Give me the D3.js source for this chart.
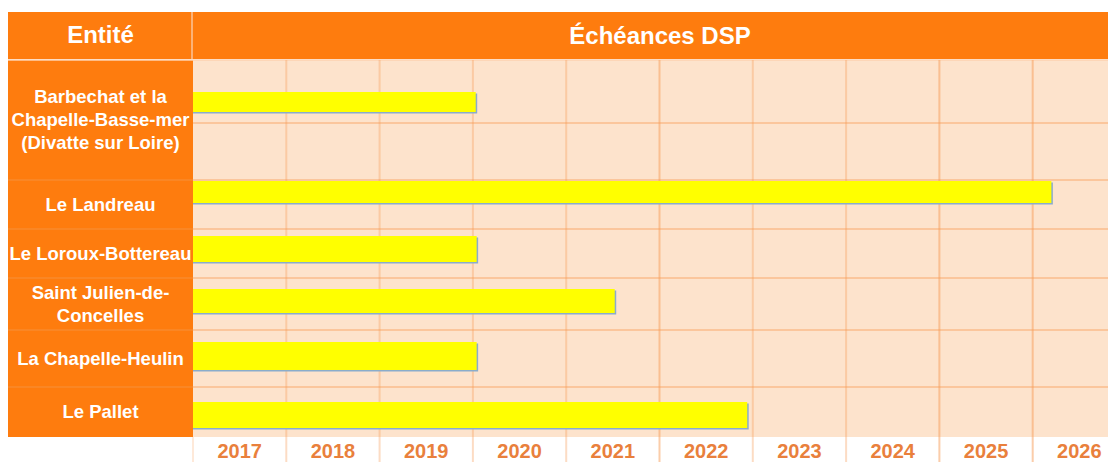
<!DOCTYPE html>
<html>
<head>
<meta charset="utf-8">
<script src="https://cdn.jsdelivr.net/npm/d3@7"></script>
<style>
  body { margin: 0; background: #fff; }
  text { font-family: "Liberation Sans", Arial, sans-serif; font-weight: bold; }
</style>
</head>
<body>
<div id="chart"></div>
<script>
// data
const entities = [
  "Barbechat et la\nChapelle-Basse-mer\n(Divatte sur Loire)",
  "Le Landreau",
  "Le Loroux-Bottereau",
  "Saint Julien-de-\nConcelles",
  "La Chapelle-Heulin",
  "Le Pallet"
];
// end of each DSP contract (year, decimal)
const echeances = [2020.03, 2026.2, 2020.04, 2021.52, 2020.04, 2022.94];
const years = [2017, 2018, 2019, 2020, 2021, 2022, 2023, 2024, 2025, 2026];
const headers = ["Entité", "Échéances DSP"];

const width = 1108, height = 462;
const orange = "#fe7c0e", peach = "#fde3cc", gridCol = "#f79c55";

const svg = d3.select("#chart").append("svg")
    .attr("width", width)
    .attr("height", height);

// table layout (row edges of the left column)
const plotTop = 60, plotBottom = 437, colLeft = 8, colRight = 193;
const rowY = d3.scaleLinear()
    .domain(d3.range(entities.length + 1))
    .range([plotTop, 180, 229, 278, 330, 387, plotBottom]);
// bars were placed by hand over the table, so they sit a bit above the row centres
const barY = d3.scaleOrdinal().domain(entities).range([102, 192, 249, 301, 356, 415]);
const barH = d3.scaleOrdinal().domain(entities).range([20, 22, 26, 24, 28, 26]);

const x = d3.scaleLinear()
    .domain([years[0], years[years.length - 1] + 1])
    .range([colRight, colRight + 93.3 * years.length]);

// header
svg.append("rect").attr("x", colLeft).attr("y", 12)
    .attr("width", width - colLeft).attr("height", 47).attr("fill", orange);
svg.append("line").attr("x1", colRight - 1).attr("x2", colRight - 1)
    .attr("y1", 12).attr("y2", 59).attr("stroke", "#fbc59b").attr("stroke-width", 1.5);
svg.append("text").attr("x", (colLeft + colRight) / 2).attr("y", 43)
    .attr("text-anchor", "middle").attr("fill", "#fff").attr("font-size", 24).text(headers[0]);
svg.append("text").attr("x", 660).attr("y", 44)
    .attr("text-anchor", "middle").attr("fill", "#fff").attr("font-size", 24).text(headers[1]);

// left column + plot background
svg.append("rect").attr("x", colLeft).attr("y", plotTop)
    .attr("width", colRight - colLeft).attr("height", plotBottom - plotTop).attr("fill", orange);
svg.append("rect").attr("x", colRight).attr("y", plotTop)
    .attr("width", width - colRight).attr("height", plotBottom - plotTop).attr("fill", peach);
svg.append("line").attr("x1", colLeft).attr("x2", width)
    .attr("y1", plotTop).attr("y2", plotTop).attr("stroke", "#fcd2b0").attr("stroke-width", 1.5);

// faint row separators in the orange column
svg.selectAll(".rowsep")
  .data(d3.range(1, entities.length))
  .join("line")
    .attr("class", "rowsep")
    .attr("x1", colLeft).attr("x2", colRight)
    .attr("y1", d => rowY(d)).attr("y2", d => rowY(d))
    .attr("stroke", "#f98a2c").attr("stroke-width", 1.5);

// horizontal grid in the plot area
const hLines = d3.range(1, entities.length).map(d => rowY(d)).concat([123]);
svg.selectAll(".hgrid")
  .data(hLines)
  .join("line")
    .attr("class", "hgrid")
    .attr("x1", colRight).attr("x2", width)
    .attr("y1", d => d).attr("y2", d => d)
    .attr("stroke", gridCol).attr("stroke-opacity", 0.4).attr("stroke-width", 2);

// vertical grid at year boundaries
svg.selectAll(".vgrid")
  .data(years.slice(1))
  .join("line")
    .attr("class", "vgrid")
    .attr("x1", d => x(d)).attr("x2", d => x(d))
    .attr("y1", plotTop).attr("y2", height)
    .attr("stroke", gridCol).attr("stroke-opacity", d => (d === 2022 || d === 2026 || d === 2025) ? 0.5 : 0.35)
    .attr("stroke-width", 2);
svg.append("line").attr("x1", colRight).attr("x2", colRight)
    .attr("y1", plotBottom).attr("y2", height)
    .attr("stroke", gridCol).attr("stroke-opacity", 0.3).attr("stroke-width", 1.5);

// bars (blue edge underneath, yellow on top)
const bars = svg.selectAll(".bar")
  .data(entities.map((e, i) => ({ name: e, end: echeances[i] })))
  .join("g")
    .attr("class", "bar");
bars.append("rect")
    .attr("x", x(years[0]))
    .attr("y", d => barY(d.name) - barH(d.name) / 2 + 1.5)
    .attr("width", d => x(d.end) - x(years[0]) + 1.5)
    .attr("height", d => barH(d.name))
    .attr("fill", "#8aaccb");
bars.append("rect")
    .attr("x", x(years[0]))
    .attr("y", d => barY(d.name) - barH(d.name) / 2)
    .attr("width", d => x(d.end) - x(years[0]))
    .attr("height", d => barH(d.name))
    .attr("fill", "#ffff00");

// entity labels
const lineH = 23;
svg.selectAll(".entity")
  .data(entities)
  .join("text")
    .attr("class", "entity")
    .attr("x", (colLeft + colRight) / 2)
    .attr("text-anchor", "middle")
    .attr("fill", "#fff")
    .attr("font-size", 18.5)
    .each(function (d, i) {
      const lines = d.split("\n");
      const cy = (rowY(i) + rowY(i + 1)) / 2;
      const y0 = cy + 6 - (lines.length - 1) * lineH / 2;
      d3.select(this).selectAll("tspan")
        .data(lines)
        .join("tspan")
          .attr("x", (colLeft + colRight) / 2)
          .attr("y", (l, j) => y0 + j * lineH)
          .text(l => l);
    });

// year labels
svg.selectAll(".year")
  .data(years)
  .join("text")
    .attr("class", "year")
    .attr("x", d => x(d + 0.5))
    .attr("y", 458)
    .attr("text-anchor", "middle")
    .attr("fill", "#e9803c")
    .attr("font-size", 20)
    .text(d => d);
</script>
</body>
</html>
